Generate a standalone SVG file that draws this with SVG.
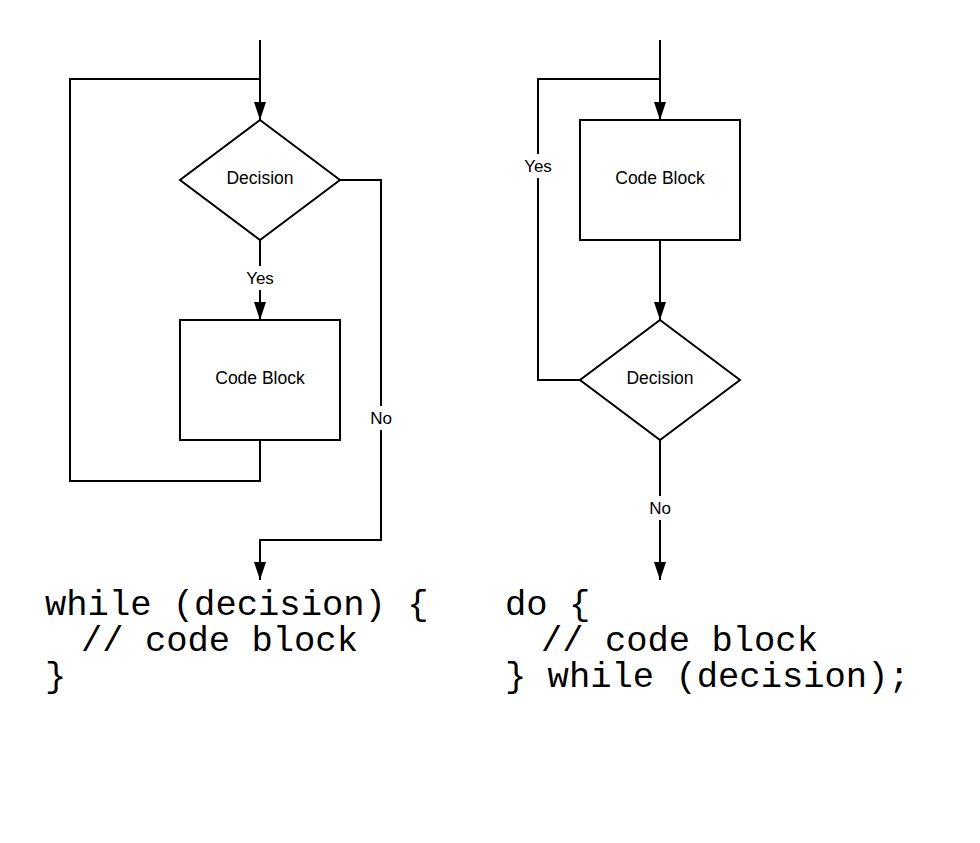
<svg xmlns="http://www.w3.org/2000/svg" width="980" height="843" viewBox="0 0 980 843">
<style>
.ln{fill:none;stroke:#000;stroke-width:2}
.nd{fill:#fff;stroke:#000;stroke-width:2}
.lb{font-family:"Liberation Sans",Arial,sans-serif;font-size:17.5px;fill:#000;text-anchor:middle;dominant-baseline:central}
.el{font-family:"Liberation Sans",Arial,sans-serif;font-size:17px;fill:#000;text-anchor:middle;dominant-baseline:central}
.bg{fill:#fff}
.code{font-family:"Liberation Mono","Courier New",monospace;font-size:35.5px;fill:#000}
</style>
<defs>
<marker id="arr" viewBox="0 0 18 12" refX="18" refY="6" markerWidth="18" markerHeight="12" markerUnits="userSpaceOnUse" orient="auto">
<path d="M0,0 L18,6 L0,12 Z" fill="#000"/>
</marker>
</defs>
<rect width="980" height="843" fill="#fff"/>
<g id="connectors">
<path class="ln" d="M260,40 L260,120" marker-end="url(#arr)"/>
<path class="ln" d="M260,440 L260,481 L70,481 L70,79 L260,79"/>
<path class="ln" d="M260,240 L260,320" marker-end="url(#arr)"/>
<path class="ln" d="M340,180 L381,180 L381,540 L260,540 L260,580" marker-end="url(#arr)"/>
<path class="ln" d="M660,40 L660,120" marker-end="url(#arr)"/>
<path class="ln" d="M580,380 L538,380 L538,79 L660,79"/>
<path class="ln" d="M660,240 L660,320" marker-end="url(#arr)"/>
<path class="ln" d="M660,440 L660,580" marker-end="url(#arr)"/>
<rect class="bg" x="243" y="266" width="34" height="24"/>
<text class="el" x="260" y="278">Yes</text>
<rect class="bg" x="368" y="406" width="27" height="24"/>
<text class="el" x="381" y="418">No</text>
<rect class="bg" x="521" y="154" width="34" height="24"/>
<text class="el" x="538" y="166">Yes</text>
<rect class="bg" x="646" y="496" width="28" height="24"/>
<text class="el" x="660" y="508">No</text>
</g>
<g id="decision1">
<polygon class="nd" points="260,120 340,180 260,240 180,180"/>
<text class="lb" x="260" y="178">Decision</text>
</g>
<g id="codeblock1">
<rect class="nd" x="180" y="320" width="160" height="120"/>
<text class="lb" x="260" y="378">Code Block</text>
</g>
<g id="codeblock2">
<rect class="nd" x="580" y="120" width="160" height="120"/>
<text class="lb" x="660" y="178">Code Block</text>
</g>
<g id="decision2">
<polygon class="nd" points="660,320 740,380 660,440 580,380"/>
<text class="lb" x="660" y="378">Decision</text>
</g>
<g id="code-while">
<text class="code" x="45" y="615">while (decision) {</text>
<text class="code" x="81" y="651">// code block</text>
<text class="code" x="45" y="687">}</text>
</g>
<g id="code-dowhile">
<text class="code" x="505" y="615">do {</text>
<text class="code" x="541" y="651">// code block</text>
<text class="code" x="505" y="687">} while (decision);</text>
</g>
</svg>
